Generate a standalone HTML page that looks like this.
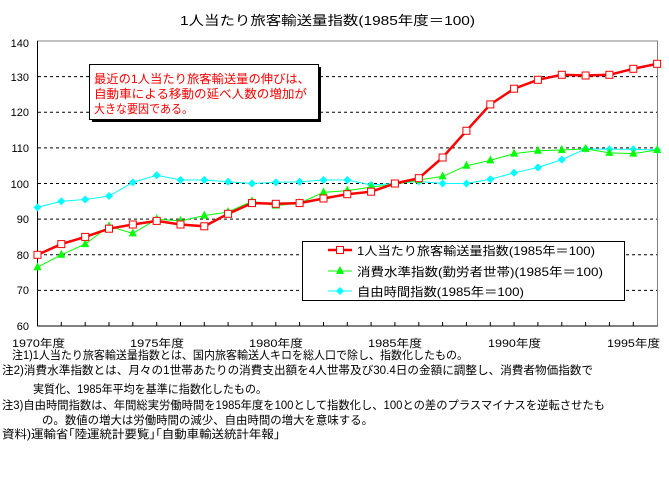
<!DOCTYPE html>
<html><head><meta charset="utf-8"><style>
body{margin:0;background:#fff;}
svg text{font-family:"Liberation Sans","Noto Sans CJK JP",sans-serif;}
</style></head><body>
<svg width="669" height="472" xmlns="http://www.w3.org/2000/svg">
<defs>
<marker id="mr" markerUnits="userSpaceOnUse" markerWidth="10" markerHeight="10" refX="5" refY="5" overflow="visible"><rect x="1.5" y="1.5" width="7" height="7" fill="#fff" stroke="#f00" stroke-width="1"/></marker>
<marker id="mg" markerUnits="userSpaceOnUse" markerWidth="10" markerHeight="10" refX="5" refY="5" overflow="visible"><polygon points="5,0 9,8 1,8" fill="#0f0"/></marker>
<marker id="mc" markerUnits="userSpaceOnUse" markerWidth="10" markerHeight="10" refX="5" refY="5" overflow="visible"><polygon points="5,1 9,5 5,9 1,5" fill="#0ff"/></marker>
</defs>
<rect width="669" height="472" fill="#fff"/>
<text x="180" y="25" font-size="13" textLength="295" lengthAdjust="spacingAndGlyphs">1人当たり旅客輸送量指数(1985年度＝100)</text>
<g stroke="#000" stroke-dasharray="3,3" stroke-width="1">
<line x1="38" x2="657" y1="76.6" y2="76.6"/><line x1="38" x2="657" y1="112.3" y2="112.3"/>
<line x1="38" x2="657" y1="147.9" y2="147.9"/><line x1="38" x2="657" y1="183.5" y2="183.5"/>
<line x1="38" x2="657" y1="219.1" y2="219.1"/><line x1="38" x2="657" y1="254.8" y2="254.8"/>
<line x1="38" x2="657" y1="290.4" y2="290.4"/>
</g>
<rect x="37.5" y="41" width="620" height="285" fill="none" stroke="#808080"/>
<line x1="37.5" y1="41" x2="37.5" y2="326" stroke="#000"/>
<line x1="37.5" y1="326" x2="657.5" y2="326" stroke="#000"/>
<g font-size="11" text-anchor="end">
<text x="29" y="47">140</text><text x="29" y="81">130</text><text x="29" y="116">120</text><text x="29" y="152">110</text><text x="29" y="188">100</text><text x="29" y="223">90</text><text x="29" y="259">80</text><text x="29" y="294">70</text><text x="29" y="330">60</text>
</g>
<path stroke="#000" d="M61.3 326v-4M85.2 326v-4M109 326v-4M132.8 326v-4M156.7 326v-4M180.5 326v-4M204.3 326v-4M228.1 326v-4M252 326v-4M275.8 326v-4M299.6 326v-4M323.5 326v-4M347.3 326v-4M371.1 326v-4M394.9 326v-4M418.8 326v-4M442.6 326v-4M466.4 326v-4M490.3 326v-4M514.1 326v-4M537.9 326v-4M561.8 326v-4M585.6 326v-4M609.4 326v-4M633.3 326v-4"/>
<g font-size="11">
<text x="12" y="347" textLength="53" lengthAdjust="spacingAndGlyphs">1970年度</text>
<text x="130" y="347" textLength="54" lengthAdjust="spacingAndGlyphs">1975年度</text>
<text x="249" y="347" textLength="54" lengthAdjust="spacingAndGlyphs">1980年度</text>
<text x="368" y="347" textLength="54" lengthAdjust="spacingAndGlyphs">1985年度</text>
<text x="488" y="347" textLength="53" lengthAdjust="spacingAndGlyphs">1990年度</text>
<text x="607" y="347" textLength="53" lengthAdjust="spacingAndGlyphs">1995年度</text>
</g>
<rect x="92" y="67" width="229" height="55" fill="#000"/>
<rect x="89.5" y="64.5" width="229" height="55" fill="#fff" stroke="#000"/>
<g font-size="12" fill="#f00">
<text x="94" y="83" textLength="216" lengthAdjust="spacingAndGlyphs">最近の1人当たり旅客輸送量の伸びは、</text>
<text x="94" y="98" textLength="213" lengthAdjust="spacingAndGlyphs">自動車による移動の延べ人数の増加が</text>
<text x="94" y="113" textLength="99" lengthAdjust="spacingAndGlyphs">大きな要因である。</text>
</g>
<polyline fill="none" stroke="#0ff" stroke-width="1" marker-start="url(#mc)" marker-mid="url(#mc)" marker-end="url(#mc)" points="37.5,207.4 61.3,201.3 85.2,199.5 109,196 132.8,182.4 156.7,175.3 180.5,180 204.3,180 228.1,181.7 252,183.5 275.8,182.4 299.6,181.7 323.5,180 347.3,180 371.1,184.9 394.9,183.5 418.8,181.4 442.6,183.5 466.4,183.5 490.3,179.2 514.1,172.8 537.9,167.5 561.8,159.6 585.6,148.9 609.4,149.3 633.3,149.3 657.1,150"/>
<polyline fill="none" stroke="#0f0" stroke-width="1" marker-start="url(#mg)" marker-mid="url(#mg)" marker-end="url(#mg)" points="37.5,267.2 61.3,254.8 85.2,244.1 109,226.3 132.8,233.4 156.7,219.1 180.5,220.9 204.3,215.6 228.1,212 252,201.3 275.8,205.6 299.6,203.1 323.5,192.4 347.3,190.6 371.1,187.1 394.9,184.2 418.8,180 442.6,176.4 466.4,165.7 490.3,160.4 514.1,153.6 537.9,150.7 561.8,150 585.6,148.9 609.4,152.9 633.3,153.6 657.1,150"/>
<polyline fill="none" stroke="#f00" stroke-width="2.5" marker-start="url(#mr)" marker-mid="url(#mr)" marker-end="url(#mr)" points="37.5,254.8 61.3,244.1 85.2,236.9 109,228.7 132.8,224.5 156.7,220.9 180.5,224.5 204.3,226.3 228.1,213.8 252,203.1 275.8,203.8 299.6,203.1 323.5,198.5 347.3,194.2 371.1,191.7 394.9,183.5 418.8,178.2 442.6,157.5 466.4,130.8 490.3,104.4 514.1,88.7 537.9,79.8 561.8,74.8 585.6,75.5 609.4,74.8 633.3,68.8 657.1,63.8"/>
<rect x="302.5" y="241.5" width="322" height="59" fill="#fff" stroke="#000"/>
<line x1="328" x2="352" y1="250" y2="250" stroke="#f00" stroke-width="2.5"/><rect x="336.5" y="246.5" width="7" height="7" fill="#fff" stroke="#f00"/>
<line x1="328" x2="352" y1="271" y2="271" stroke="#0f0" stroke-width="1"/><polygon points="340,266 344,274 336,274" fill="#0f0"/>
<line x1="328" x2="352" y1="291" y2="291" stroke="#0ff" stroke-width="1"/><polygon points="340,287 344,291 340,295 336,291" fill="#0ff"/>
<g font-size="12">
<text x="357" y="255" textLength="238" lengthAdjust="spacingAndGlyphs">1人当たり旅客輸送量指数(1985年＝100)</text>
<text x="357" y="276" textLength="246" lengthAdjust="spacingAndGlyphs">消費水準指数(勤労者世帯)(1985年＝100)</text>
<text x="357" y="296" textLength="167" lengthAdjust="spacingAndGlyphs">自由時間指数(1985年＝100)</text>
</g>
<g font-size="11.5">
<text x="12" y="359" textLength="456" lengthAdjust="spacingAndGlyphs">注1)1人当たり旅客輸送量指数とは、国内旅客輸送人キロを総人口で除し、指数化したもの。</text>
<text x="2" y="374" textLength="591" lengthAdjust="spacingAndGlyphs">注2)消費水準指数とは、月々の1世帯あたりの消費支出額を4人世帯及び30.4日の金額に調整し、消費者物価指数で</text>
<text x="33" y="393" textLength="234" lengthAdjust="spacingAndGlyphs">実質化、1985年平均を基準に指数化したもの。</text>
<text x="2" y="409" textLength="603" lengthAdjust="spacingAndGlyphs">注3)自由時間指数は、年間総実労働時間を1985年度を100として指数化し、100との差のプラスマイナスを逆転させたも</text>
<text x="42" y="424" textLength="331" lengthAdjust="spacingAndGlyphs">の。数値の増大は労働時間の減少、自由時間の増大を意味する。</text>
<text x="2" y="438" textLength="278" lengthAdjust="spacingAndGlyphs">資料)運輸省｢陸運統計要覧｣｢自動車輸送統計年報｣</text>
</g>
</svg>
</body></html>
